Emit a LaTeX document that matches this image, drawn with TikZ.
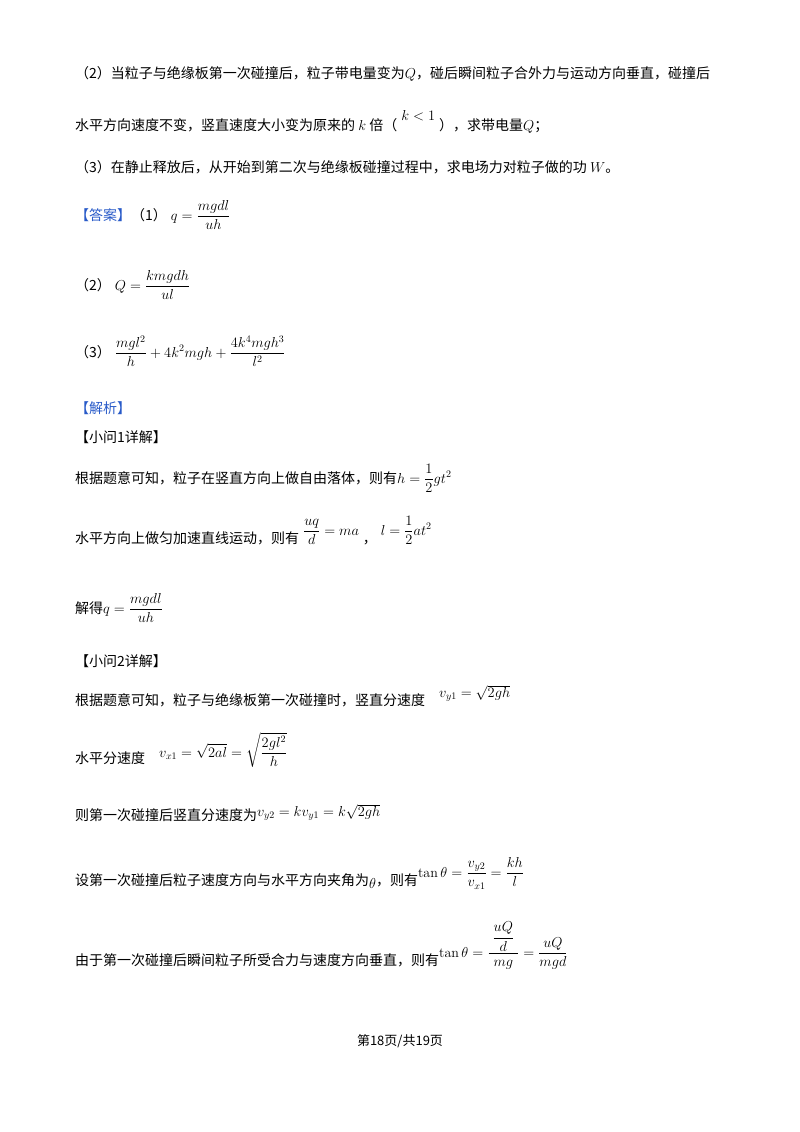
\documentclass[tikz,border=0pt]{standalone}
\usepackage{amsmath}
\usepackage{fontspec}
\newfontfamily\cjk{Noto Sans CJK SC}
\definecolor{ansblue}{RGB}{40,90,200}
\tikzset{txt/.style={anchor=base west,inner sep=0pt,font=\cjk\fontsize{14}{16}\selectfont}}
\begin{document}
\begin{tikzpicture}[x=1pt,y=1pt]
\useasboundingbox (0,0) rectangle (800,-1132);
\node[txt] (l1) at (75,-78) {（2）当粒子与绝缘板第一次碰撞后，粒子带电量变为$Q$，碰后瞬间粒子合外力与运动方向垂直，碰撞后};
\node[txt] (l2) at (75,-130) {水平方向速度不变，竖直速度大小变为原来的 $k$ 倍（\raisebox{10pt}{$\;k<1\;$}），求带电量$Q$；};
\node[txt] (l3) at (75,-172) {（3）在静止释放后，从开始到第二次与绝缘板碰撞过程中，求电场力对粒子做的功 $W$。};
\node[txt] (a1) at (75,-220) {\textcolor{ansblue}{【答案】}（1）\;$q=\dfrac{mgdl}{uh}$};
\node[txt] (a2) at (75,-290) {（2）\;$Q=\dfrac{kmgdh}{ul}$};
\node[txt] (a3) at (75,-357) {（3）\;$\dfrac{mgl^2}{h}+4k^2mgh+\dfrac{4k^4mgh^3}{l^2}$};
\node[txt] (jx) at (75,-413) {\textcolor{ansblue}{【解析】}};
\node[txt] (q1) at (75,-442) {【小问1详解】};
\node[txt] (s1) at (75,-483) {根据题意可知，粒子在竖直方向上做自由落体，则有$h=\dfrac12 gt^2$};
\node[txt] (s2) at (75,-543) {水平方向上做匀加速直线运动，则有\;\raisebox{8pt}{$\dfrac{uq}{d}=ma$}\;，\;\raisebox{8pt}{$l=\dfrac12 at^2$}};
\node[txt] (s3) at (75,-613) {解得$q=\dfrac{mgdl}{uh}$};
\node[txt] (q2) at (75,-666) {【小问2详解】};
\node[txt] (s4) at (75,-705) {根据题意可知，粒子与绝缘板第一次碰撞时，竖直分速度\quad\raisebox{8pt}{$v_{y1}=\sqrt{2gh}$}};
\node[txt] (s5) at (75,-763) {水平分速度\quad\raisebox{6pt}{$v_{x1}=\sqrt{2al}=\sqrt{\dfrac{2gl^2}{h}}$}};
\node[txt] (s6) at (75,-820) {则第一次碰撞后竖直分速度为\raisebox{4pt}{$v_{y2}=kv_{y1}=k\sqrt{2gh}$}};
\node[txt] (s7) at (75,-885) {设第一次碰撞后粒子速度方向与水平方向夹角为\raisebox{-3pt}{$\theta$}，则有\raisebox{8pt}{$\tan\theta=\dfrac{v_{y2}}{v_{x1}}=\dfrac{kh}{l}$}};
\node[txt] (s8) at (75,-965) {由于第一次碰撞后瞬间粒子所受合力与速度方向垂直，则有\raisebox{8pt}{$\tan\theta=\dfrac{\;\dfrac{uQ}{d}\;}{mg}=\dfrac{uQ}{mgd}$}};
\node[txt,anchor=base,font=\cjk\fontsize{13}{15}\selectfont] (pg) at (400,-1045) {第18页/共19页};
\end{tikzpicture}
\end{document}
